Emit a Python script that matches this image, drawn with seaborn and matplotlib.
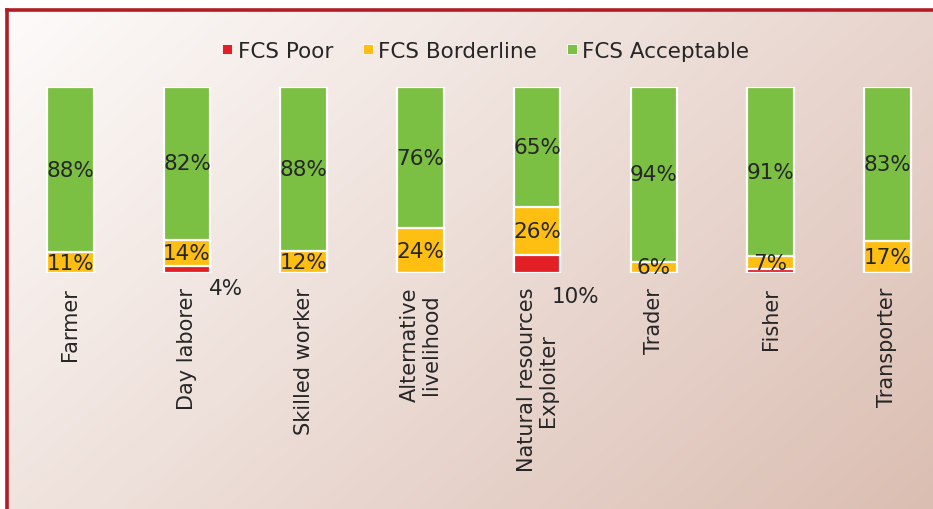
import matplotlib.pyplot as plt
import numpy as np
import pandas as pd
import seaborn as sns
from matplotlib.lines import Line2D

# data
categories = ["Farmer", "Day laborer", "Skilled worker",
              "Alternative\nlivelihood", "Natural resources\nExploiter",
              "Trader", "Fisher", "Transporter"]
fcs_poor = [0, 4, 0, 0, 10, 0, 2, 0]
fcs_borderline = [11, 14, 12, 24, 26, 6, 7, 17]
fcs_acceptable = [88, 82, 88, 76, 65, 94, 91, 83]
poor_labels = ["", "4%", "", "", "10%", "", "", ""]
series_names = ["FCS Poor", "FCS Borderline", "FCS Acceptable"]

RED = "#E31F26"
YELLOW = "#FFBE12"
GREEN = "#7BC043"
FRAME = "#B01E24"
TXT = "#262626"


def main():
    df = pd.DataFrame({"cat": categories, "poor": fcs_poor,
                       "border": fcs_borderline, "accept": fcs_acceptable})
    total = df[["poor", "border", "accept"]].sum(axis=1)
    df["c1"] = df["poor"] / total * 100
    df["c2"] = (df["poor"] + df["border"]) / total * 100
    df["c3"] = 100.0

    W, H = 933, 510
    fig = plt.figure(figsize=(W / 100, H / 100), dpi=100)

    # gradient background inside the frame
    bg = fig.add_axes([0, 0, 1, 1], zorder=-5)
    bg.set_xlim(0, 1)
    bg.set_ylim(0, 1)
    bg.axis("off")
    xx, yy = np.meshgrid(np.linspace(0, 1, 300), np.linspace(0, 1, 200))
    t = 0.62 * xx + 0.38 * yy
    c0 = np.array([253, 251, 250]) / 255
    c1 = np.array([219, 190, 178]) / 255
    img = c0 + (c1 - c0) * t[..., None]
    x0 = 7.5 / W
    y0 = 1 - 10.5 / H
    bg.imshow(img, extent=[x0, 1, 0, y0], aspect="auto", origin="upper")
    fig.add_artist(Line2D([x0, 1], [y0, y0], transform=fig.transFigure,
                          color=FRAME, lw=2.6, solid_capstyle="projecting"))
    fig.add_artist(Line2D([x0, x0], [y0, 0], transform=fig.transFigure,
                          color=FRAME, lw=2.6, solid_capstyle="projecting"))

    step = 116.7
    left = 12 / W
    ax = fig.add_axes([left, 1 - 274 / H, 1 - left, 186 / H])
    ax.patch.set_alpha(0)

    kw = dict(x="cat", width=0.4, edgecolor="white", linewidth=1.6,
              saturation=1, errorbar=None, ax=ax)
    sns.barplot(data=df, y="c3", color=GREEN, **kw)
    sns.barplot(data=df, y="c2", color=YELLOW, **kw)
    sns.barplot(data=df, y="c1", color=RED, **kw)

    for i, row in df.iterrows():
        ax.text(i, (row["c2"] + 100) / 2, f"{row['accept']}%", ha="center",
                va="center", fontsize=15.5, color=TXT)
        ax.text(i, (row["c1"] + row["c2"]) / 2, f"{row['border']}%",
                ha="center", va="center", fontsize=15.5, color=TXT)
    poor_y = {1: -8.1, 4: -12.4}
    for i, lab in enumerate(poor_labels):
        if lab:
            ax.text(i + 0.33, poor_y[i], lab, ha="center", va="center",
                    fontsize=15.5, color=TXT, clip_on=False)

    ax.set_xlim(-0.5, (W - 12) / step - 0.5)
    ax.set_ylim(0, 100)
    ax.set_xlabel("")
    ax.set_ylabel("")
    ax.set_yticks([])
    ax.tick_params(axis="x", length=0, pad=10, labelsize=15,
                   labelcolor=TXT, rotation=90)
    for lbl in ax.get_xticklabels():
        lbl.set_multialignment("center")
        lbl.set_linespacing(1.05)
    for s in ax.spines.values():
        s.set_visible(False)

    handles = [Line2D([], [], marker="s", ls="", color=c, markersize=6.5,
                      markeredgecolor="white", markeredgewidth=0.6)
               for c in [RED, YELLOW, GREEN]]
    fig.legend(handles, series_names, loc="center",
               bbox_to_anchor=(484 / W, 1 - 52 / H), ncol=3, frameon=False,
               fontsize=15.5, handletextpad=0.1, columnspacing=1.2,
               labelcolor=TXT, handlelength=0.8)

    fig.savefig("out.png", dpi=100)


if __name__ == "__main__":
    main()
